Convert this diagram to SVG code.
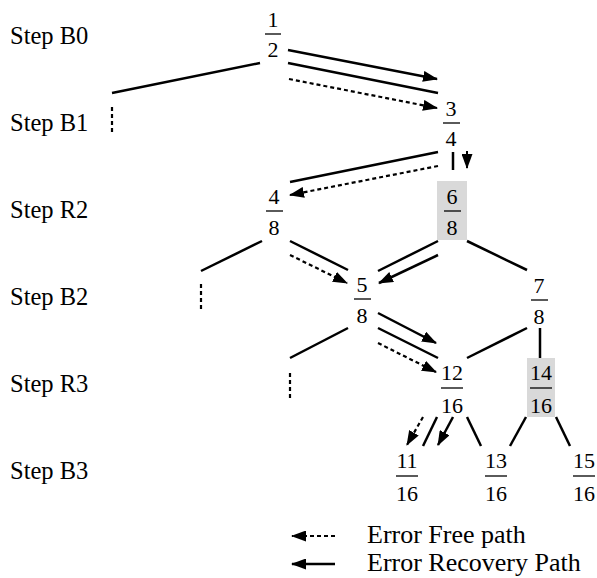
<svg xmlns="http://www.w3.org/2000/svg" width="597" height="578" viewBox="0 0 597 578">
  <style>
    .lbl { font-family: "Liberation Serif", "Times New Roman", serif; font-size: 24.5px; fill: #000; }
    .leg { font-family: "Liberation Serif", "Times New Roman", serif; font-size: 26px; fill: #000; }
    .num { font-family: "Liberation Serif", "Times New Roman", serif; font-size: 22px; fill: #000; text-anchor: middle; }
    .bar { stroke: #000; stroke-width: 1.3; }
    .edge { stroke: #000; stroke-width: 2.5; fill: none; }
    .dot { stroke: #000; stroke-width: 2.2; stroke-dasharray: 4 3; fill: none; }
    .shade { fill: #d9d9d9; }
  </style>
  <defs>
    <marker id="head" viewBox="0 0 15 11" refX="14" refY="5.5" markerWidth="15" markerHeight="11" markerUnits="userSpaceOnUse" orient="auto">
      <path d="M0,0 L15,5.5 L0,11 z" fill="#000"/>
    </marker>
  </defs>

  <!-- step labels -->
  <g id="steps">
    <text class="lbl" x="10" y="44">Step B0</text>
    <text class="lbl" x="10" y="131">Step B1</text>
    <text class="lbl" x="10" y="218">Step R2</text>
    <text class="lbl" x="10" y="305">Step B2</text>
    <text class="lbl" x="10" y="392">Step R3</text>
    <text class="lbl" x="10" y="479">Step B3</text>
  </g>

  <!-- fraction nodes: numerator above the bar, denominator below -->
  <g id="n1_2">
    <text class="num" x="273" y="27">1</text>
    <line class="bar" x1="265" y1="34" x2="281" y2="34"/>
    <text class="num" x="273" y="57">2</text>
  </g>
  <g id="n3_4">
    <text class="num" x="451" y="116">3</text>
    <line class="bar" x1="443" y1="123" x2="460" y2="123"/>
    <text class="num" x="451" y="146">4</text>
  </g>
  <g id="n4_8">
    <text class="num" x="274" y="204">4</text>
    <line class="bar" x1="266" y1="211" x2="283" y2="211"/>
    <text class="num" x="274" y="235">8</text>
  </g>
  <g id="n6_8">
    <rect class="shade" x="437" y="181" width="30" height="59"/>
    <text class="num" x="452" y="204">6</text>
    <line class="bar" x1="444" y1="211" x2="461" y2="211"/>
    <text class="num" x="452" y="235">8</text>
  </g>
  <g id="n5_8">
    <text class="num" x="362" y="292">5</text>
    <line class="bar" x1="354" y1="299" x2="371" y2="299"/>
    <text class="num" x="362" y="323">8</text>
  </g>
  <g id="n7_8">
    <text class="num" x="539" y="293">7</text>
    <line class="bar" x1="531" y1="300" x2="548" y2="300"/>
    <text class="num" x="539" y="324">8</text>
  </g>
  <g id="n12_16">
    <text class="num" x="452" y="380">12</text>
    <line class="bar" x1="441" y1="388" x2="463" y2="388"/>
    <text class="num" x="452" y="413">16</text>
  </g>
  <g id="n14_16">
    <rect class="shade" x="527" y="358" width="28" height="59"/>
    <text class="num" x="541" y="380">14</text>
    <line class="bar" x1="530" y1="388" x2="552" y2="388"/>
    <text class="num" x="541" y="413">16</text>
  </g>
  <g id="n11_16">
    <text class="num" x="407" y="468">11</text>
    <line class="bar" x1="396" y1="476" x2="418" y2="476"/>
    <text class="num" x="407" y="501">16</text>
  </g>
  <g id="n13_16">
    <text class="num" x="496" y="468">13</text>
    <line class="bar" x1="485" y1="476" x2="507" y2="476"/>
    <text class="num" x="496" y="501">16</text>
  </g>
  <g id="n15_16">
    <text class="num" x="584" y="468">15</text>
    <line class="bar" x1="573" y1="476" x2="595" y2="476"/>
    <text class="num" x="584" y="501">16</text>
  </g>

  <!-- tree edges and path arrows -->
  <g id="connectors">
    <!-- level B0 -> B1 -->
    <line class="edge" x1="260" y1="63" x2="112" y2="93"/>
    <line class="dot" x1="112" y1="107" x2="112" y2="133"/>
    <line class="edge" x1="288" y1="50" x2="437" y2="79" marker-end="url(#head)"/>
    <line class="edge" x1="288" y1="63" x2="438" y2="93"/>
    <line class="dot" x1="289" y1="79" x2="437" y2="108" marker-end="url(#head)"/>

    <!-- level B1 -> R2 -->
    <line class="edge" x1="438" y1="152" x2="290" y2="182"/>
    <line class="dot" x1="438" y1="166" x2="290" y2="195" marker-end="url(#head)"/>
    <line class="edge" x1="453" y1="152" x2="453" y2="170"/>
    <line x1="467" y1="151" x2="467" y2="168" stroke="#000" stroke-width="2" marker-end="url(#head)"/>

    <!-- level R2 -> B2 -->
    <line class="edge" x1="262" y1="241" x2="201" y2="271"/>
    <line class="dot" x1="201" y1="284" x2="201" y2="310"/>
    <line class="edge" x1="290" y1="241" x2="348" y2="270"/>
    <line class="dot" x1="290" y1="255" x2="347" y2="283" marker-end="url(#head)"/>
    <line class="edge" x1="438" y1="241" x2="378" y2="271"/>
    <line class="edge" x1="438" y1="255" x2="379" y2="283" marker-end="url(#head)"/>
    <line class="edge" x1="467" y1="241" x2="527" y2="270"/>

    <!-- level B2 -> R3 -->
    <line class="edge" x1="348" y1="328" x2="290" y2="358"/>
    <line class="dot" x1="290" y1="373" x2="290" y2="399"/>
    <line class="edge" x1="378" y1="313" x2="436" y2="343" marker-end="url(#head)"/>
    <line class="edge" x1="378" y1="328" x2="438" y2="358"/>
    <line class="dot" x1="378" y1="343" x2="436" y2="372" marker-end="url(#head)"/>
    <line class="edge" x1="527" y1="328" x2="467" y2="358"/>
    <line class="edge" x1="540" y1="328" x2="540" y2="358"/>

    <!-- level R3 -> B3 -->
    <line class="dot" x1="423" y1="417" x2="407" y2="445" marker-end="url(#head)"/>
    <line class="edge" x1="437" y1="417" x2="423" y2="446"/>
    <line class="edge" x1="453" y1="417" x2="438" y2="445" marker-end="url(#head)"/>
    <line class="edge" x1="467" y1="417" x2="481" y2="446"/>
    <line class="edge" x1="526" y1="417" x2="510" y2="446"/>
    <line class="edge" x1="556" y1="417" x2="570" y2="446"/>
  </g>

  <!-- legend -->
  <g id="legend">
    <line class="dot" x1="335" y1="536" x2="292" y2="536" marker-end="url(#head)"/>
    <text class="leg" x="367" y="543">Error Free path</text>
    <line class="edge" x1="335" y1="564" x2="292" y2="564" marker-end="url(#head)"/>
    <text class="leg" x="367" y="571">Error Recovery Path</text>
  </g>
</svg>
